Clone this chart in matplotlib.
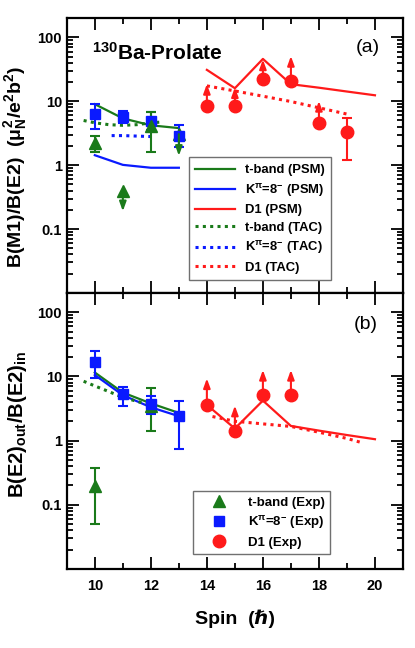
import numpy as np
import matplotlib
matplotlib.use('Agg')
import matplotlib.pyplot as plt
from matplotlib.ticker import LogLocator, NullFormatter, FixedLocator

plt.rcParams['font.family'] = ['Liberation Sans', 'DejaVu Sans']
plt.rcParams['font.weight'] = 'bold'
plt.rcParams['mathtext.fontset'] = 'custom'
plt.rcParams['mathtext.rm'] = 'Liberation Sans:bold'
plt.rcParams['mathtext.it'] = 'Liberation Sans:bold'
plt.rcParams['mathtext.bf'] = 'Liberation Sans:bold'

GREEN = '#1a7a1a'
BLUE = '#0a1aff'
RED = '#ff1a1a'

# ---------------- panel (a): B(M1)/B(E2) ----------------
# experiment
kb_spin_a = [10, 11, 12, 13]
kb_val_a = [6.3, 5.7, 4.9, 2.9]
kb_lo_a = [3.7, 4.6, 3.6, 1.9]
kb_hi_a = [9.0, 7.0, 6.8, 4.3]

tb_spin_a = [10, 12]
tb_val_a = [2.26, 4.1]
tb_lo_a = [1.6, 1.6]
tb_hi_a = [2.9, 6.7]
# t-band upper limits (arrow down)
tb_lim_spin_a = [11, 13]
tb_lim_val_a = [0.40, 3.05]
tb_lim_tip_a = [0.19, 1.4]

d1_spin_a = [14, 15, 16, 17, 18, 19]
d1_val_a = [8.3, 8.3, 22.0, 20.8, 4.5, 3.3]
# D1 lower limits (arrow up)
d1_lim_spin_a = [14, 15, 16, 17, 18]
d1_lim_val_a = [8.3, 8.3, 22.0, 20.8, 4.5]
d1_lim_tip_a = [18.6, 16.5, 45.0, 51.0, 10.1]
d1_err_spin_a = [19]
d1_err_val_a = [3.3]
d1_err_lo_a = [1.2]
d1_err_hi_a = [5.5]

# theory
tb_psm_spin_a = [10, 11, 12, 13]
tb_psm_a = [9.0, 5.4, 4.2, 3.8]
kb_psm_spin_a = [10, 11, 12, 13]
kb_psm_a = [1.43, 1.01, 0.91, 0.91]
d1_psm_spin_a = [14, 15, 16, 17, 18, 19, 20]
d1_psm_a = [31, 16, 46, 18.5, 16.3, 14.2, 12.4]
tb_tac_spin_a = [9.6, 10, 10.5, 11, 11.5, 12, 12.3]
tb_tac_a = [5.0, 4.6, 4.3, 4.2, 4.3, 4.6, 4.7]
kb_tac_spin_a = [10.6, 11, 11.5, 12]
kb_tac_a = [2.9, 2.9, 2.85, 2.8]
d1_tac_spin_a = [14, 15, 16, 17, 18, 19]
d1_tac_a = [17.4, 14.5, 12.0, 9.9, 7.9, 6.3]

# ---------------- panel (b): B(E2)out/B(E2)in ----------------
kb_spin_b = [10, 11, 12, 13]
kb_val_b = [16.5, 5.3, 3.7, 2.4]
kb_lo_b = [9.5, 3.5, 2.6, 0.73]
kb_hi_b = [24.5, 6.9, 5.0, 4.2]

tb_spin_b = [10, 12]
tb_val_b = [0.195, 3.5]
tb_lo_b = [0.05, 1.4]
tb_hi_b = [0.38, 6.7]

d1_spin_b = [14, 15, 16, 17]
d1_val_b = [3.6, 1.41, 5.1, 5.1]
d1_tip_b = [9.3, 3.5, 12.6, 12.6]

tb_psm_spin_b = [10, 11, 12, 13]
tb_psm_b = [11.5, 5.6, 3.8, 2.7]
kb_psm_spin_b = [10, 11, 12, 13]
kb_psm_b = [10.5, 5.1, 3.3, 2.4]
d1_psm_spin_b = [14, 15, 16, 17, 18, 19, 20]
d1_psm_b = [3.6, 1.54, 4.2, 1.69, 1.43, 1.22, 1.05]
tb_tac_spin_b = [9.6, 10, 10.5, 11, 11.5, 12]
tb_tac_b = [8.4, 7.1, 5.8, 4.7, 4.1, 3.55]
d1_tac_spin_b = [14.2, 15, 16, 17, 18, 19, 19.6]
d1_tac_b = [2.37, 2.0, 1.82, 1.66, 1.35, 1.08, 0.91]

dot = (0, (1, 1.4))


def style_axis(ax):
    ax.set_yscale('log')
    ax.set_xlim(9, 21)
    ax.set_ylim(0.01, 200)
    ax.xaxis.set_major_locator(FixedLocator([10, 12, 14, 16, 18, 20]))
    ax.xaxis.set_minor_locator(FixedLocator([9, 11, 13, 15, 17, 19, 21]))
    ax.yaxis.set_major_locator(FixedLocator([0.1, 1, 10, 100]))
    ax.yaxis.set_minor_locator(LogLocator(base=10, subs=np.arange(2, 10), numticks=20))
    ax.yaxis.set_minor_formatter(NullFormatter())
    ax.set_yticklabels(['0.1', '1', '10', '100'])
    ax.tick_params(which='both', direction='in', top=True, right=True, width=1.3)
    ax.tick_params(which='major', length=8.5, labelsize=10.5)
    ax.tick_params(axis='x', which='major', pad=7)
    ax.tick_params(which='minor', length=4.5)
    for s in ax.spines.values():
        s.set_linewidth(1.6)


def arrows(ax, xs, ys, tips, color):
    for x, y, t in zip(xs, ys, tips):
        ax.annotate('', xy=(x, t), xytext=(x, y),
                    arrowprops=dict(arrowstyle='-|>,head_width=0.2,head_length=0.55',
                                    color=color, lw=1.5, shrinkA=0, shrinkB=0))


fig = plt.figure(figsize=(4.15, 6.48), dpi=100)
axa = fig.add_axes([0.161, 0.548, 0.81, 0.424])
axb = fig.add_axes([0.161, 0.122, 0.81, 0.426])

# ----- panel (a)
ax = axa
style_axis(ax)
l1, = ax.plot(tb_psm_spin_a, tb_psm_a, color=GREEN, lw=1.6, label='t-band (PSM)')
l2, = ax.plot(kb_psm_spin_a, kb_psm_a, color=BLUE, lw=1.6, label=r'K$^{\pi}$=8$^{-}$ (PSM)')
l3, = ax.plot(d1_psm_spin_a, d1_psm_a, color=RED, lw=1.6, label='D1 (PSM)')
l4, = ax.plot(tb_tac_spin_a, tb_tac_a, color=GREEN, lw=2.2, ls=dot, label='t-band (TAC)')
l5, = ax.plot(kb_tac_spin_a, kb_tac_a, color=BLUE, lw=2.2, ls=dot, label=r'K$^{\pi}$=8$^{-}$ (TAC)')
l6, = ax.plot(d1_tac_spin_a, d1_tac_a, color=RED, lw=2.2, ls=dot, label='D1 (TAC)')

kb_a = np.array(kb_val_a)
ax.errorbar(kb_spin_a, kb_a, yerr=[kb_a - np.array(kb_lo_a), np.array(kb_hi_a) - kb_a],
            fmt='s', color=BLUE, ms=7.5, capsize=3.5, elinewidth=1.5, capthick=1.5)
tb_a = np.array(tb_val_a)
ax.errorbar(tb_spin_a, tb_a, yerr=[tb_a - np.array(tb_lo_a), np.array(tb_hi_a) - tb_a],
            fmt='^', color=GREEN, ms=9, capsize=3.5, elinewidth=1.5, capthick=1.5)
arrows(ax, tb_lim_spin_a, tb_lim_val_a, tb_lim_tip_a, GREEN)
ax.plot(tb_lim_spin_a, tb_lim_val_a, '^', color=GREEN, ms=9)
arrows(ax, d1_lim_spin_a, d1_lim_val_a, d1_lim_tip_a, RED)
d1e = np.array(d1_err_val_a)
ax.errorbar(d1_err_spin_a, d1e, yerr=[d1e - np.array(d1_err_lo_a), np.array(d1_err_hi_a) - d1e],
            fmt='none', color=RED, capsize=3.5, elinewidth=1.5, capthick=1.5)
ax.plot(d1_spin_a, d1_val_a, 'o', color=RED, ms=9)

ax.tick_params(labelbottom=False)
ax.text(0.075, 0.915, r'$^{130}$Ba-Prolate', transform=ax.transAxes, fontsize=15,
        fontweight='bold', va='top')
ax.text(0.93, 0.925, '(a)', transform=ax.transAxes, fontsize=14, fontweight='normal',
        ha='right', va='top')
ax.set_ylabel(r'B(M1)/B(E2)  ($\mu_N^2$/e$^2$b$^2$)', fontsize=14, fontweight='bold')
ax.yaxis.set_label_coords(-0.112, 0.46)
leg = ax.legend(handles=[l1, l2, l3, l4, l5, l6], loc='upper left', bbox_to_anchor=(0.363, 0.493),
                borderaxespad=0, fancybox=False, edgecolor='#707070', fontsize=9.4,
                handlelength=3.0, labelspacing=0.42, framealpha=1, borderpad=0.5)
leg.get_frame().set_linewidth(1.0)

# ----- panel (b)
ax = axb
style_axis(ax)
ax.plot(tb_psm_spin_b, tb_psm_b, color=GREEN, lw=1.6)
ax.plot(kb_psm_spin_b, kb_psm_b, color=BLUE, lw=1.6)
ax.plot(d1_psm_spin_b, d1_psm_b, color=RED, lw=1.6)
ax.plot(tb_tac_spin_b, tb_tac_b, color=GREEN, lw=2.2, ls=dot)
ax.plot(d1_tac_spin_b, d1_tac_b, color=RED, lw=2.2, ls=dot)

tb_b = np.array(tb_val_b)
ax.errorbar(tb_spin_b, tb_b, yerr=[tb_b - np.array(tb_lo_b), np.array(tb_hi_b) - tb_b],
            fmt='^', color=GREEN, ms=9, capsize=3.5, elinewidth=1.5, capthick=1.5)
kb_b = np.array(kb_val_b)
ax.errorbar(kb_spin_b, kb_b, yerr=[kb_b - np.array(kb_lo_b), np.array(kb_hi_b) - kb_b],
            fmt='s', color=BLUE, ms=7.5, capsize=3.5, elinewidth=1.5, capthick=1.5)
arrows(ax, d1_spin_b, d1_val_b, d1_tip_b, RED)
ax.plot(d1_spin_b, d1_val_b, 'o', color=RED, ms=9)

ax.text(0.925, 0.915, '(b)', transform=ax.transAxes, fontsize=14, fontweight='normal',
        ha='right', va='top')
ax.set_ylabel(r'B(E2)$_{out}$/B(E2)$_{in}$', fontsize=14.5, fontweight='bold')
ax.yaxis.set_label_coords(-0.112, 0.525)
ax.set_xlabel('Spin  (ℏ)', fontsize=14, fontweight='bold', labelpad=12)

hm1, = ax.plot([], [], '^', color=GREEN, ms=9, label='t-band (Exp)')
hm2, = ax.plot([], [], 's', color=BLUE, ms=7.5, label=r'K$^{\pi}$=8$^{-}$ (Exp)')
hm3, = ax.plot([], [], 'o', color=RED, ms=9, label='D1 (Exp)')
leg = ax.legend(handles=[hm1, hm2, hm3], loc='upper left', bbox_to_anchor=(0.375, 0.281),
                borderaxespad=0, fancybox=False, edgecolor='#707070', fontsize=9.5,
                handlelength=3.2, handletextpad=0.6, labelspacing=0.4, framealpha=1,
                borderpad=0.4)
leg.get_frame().set_linewidth(1.0)

fig.savefig('out.png', dpi=100)
